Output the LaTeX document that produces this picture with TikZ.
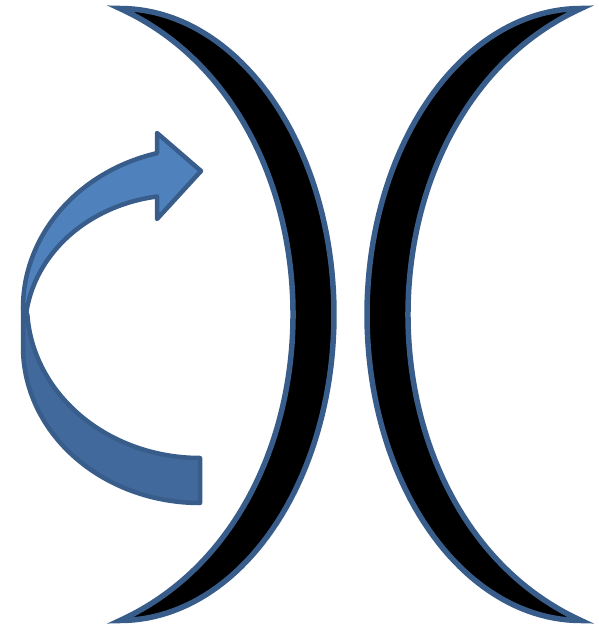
\documentclass[tikz,border=0pt]{standalone}
\definecolor{edgeblue}{RGB}{56,93,138}
\definecolor{frontblue}{RGB}{79,129,189}
\definecolor{backblue}{RGB}{65,105,155}
\tikzset{
  moon/.style={fill=black, draw=edgeblue, line width=5.5pt, line join=miter},
  arrowfront/.style={fill=frontblue, draw=edgeblue, line width=4.5pt, line join=round},
  arrowback/.style={fill=backblue, draw=edgeblue, line width=4.5pt, line join=round},
}
\begin{document}
\begin{tikzpicture}[x=1pt,y=-1pt]
\useasboundingbox (0,0) rectangle (599,626);
% left crescent
\draw[moon] plot[domain=270:450, samples=100, variable=\t] ({120+214*cos(\t)},{314.5+306*sin(\t)})
  .. controls (350.7,515) and (350.7,114) .. cycle;
% right crescent
\draw[moon] plot[domain=270:90, samples=100, variable=\t] ({581+214*cos(\t)},{314.5+306*sin(\t)})
  .. controls (350.3,515) and (350.3,114) .. cycle;
% curved arrow: back (darker) part
\draw[arrowback] (23,306) -- (23,347)
  -- plot[domain=180:90, samples=60, variable=\t] ({200+177*cos(\t)},{347+156*sin(\t)})
  -- (200,458)
  -- plot[domain=90:176.3, samples=60, variable=\t] ({200+173*cos(\t)},{305+153*sin(\t)})
  -- cycle;
% curved arrow: front part with head
\draw[arrowfront] plot[domain=180:255.44, samples=60, variable=\t] ({202+179*cos(\t)},{308+160*sin(\t)})
  -- (157,133) -- (201,171) -- (157,219) -- (157,196.5)
  -- plot[domain=261.47:183.4, samples=60, variable=\t] ({180+155*cos(\t)},{330+135*sin(\t)})
  -- cycle;
\end{tikzpicture}
\end{document}
